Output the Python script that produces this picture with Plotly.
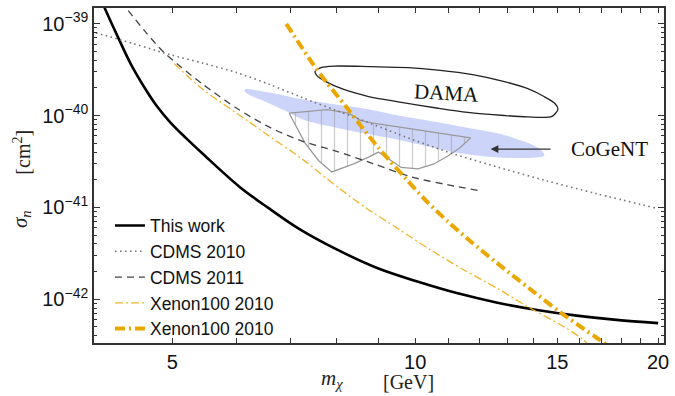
import numpy as np
import plotly.graph_objects as go

# ---------------- data ----------------
this_work_m = [4.034, 4.118, 4.276, 4.440, 4.611, 4.787, 4.972, 5.202, 5.459, 6.061, 6.598,
               7.181, 8.040, 9.006, 10.085, 11.292, 12.646, 14.163, 15.858, 17.759, 20.0]
this_work_s = [2.31e-39, 1.52e-39, 7.36e-40, 3.67e-40, 2.07e-40, 1.26e-40, 8.44e-41, 5.67e-41,
               3.81e-41, 1.67e-41, 9.68e-42, 5.84e-42, 3.40e-42, 2.16e-42, 1.55e-42, 1.16e-42,
               9.17e-43, 7.64e-43, 6.63e-43, 5.96e-43, 5.49e-43]

cdms2010_m = [4.022, 4.316, 4.972, 5.459, 6.010, 6.598, 7.243, 7.951, 8.511, 9.530, 10.980,
              12.646, 14.568, 16.784, 20.0]
cdms2010_s = [7.93e-40, 6.67e-40, 4.59e-40, 3.71e-40, 2.93e-40, 2.18e-40, 1.57e-40, 1.15e-40,
              9.21e-41, 6.26e-41, 4.00e-41, 2.75e-41, 1.94e-41, 1.41e-41, 9.68e-42]

cdms2011_m = [4.316, 4.633, 4.874, 5.086, 5.459, 6.010, 6.598, 7.243, 7.974, 8.829, 9.887,
              10.980, 12.017]
cdms2011_s = [1.76e-39, 8.13e-40, 4.94e-40, 3.58e-40, 2.18e-40, 1.20e-40, 7.46e-41, 5.26e-41,
              4.10e-41, 3.04e-41, 2.15e-41, 1.76e-41, 1.52e-41]

xenon_a_m = [5.028, 5.459, 6.010, 6.598, 7.243, 8.040, 8.674, 9.530, 10.472, 11.509, 12.646,
             13.896, 15.271, 16.163, 16.595]
xenon_a_s = [3.67e-40, 1.92e-40, 1.06e-40, 5.96e-41, 3.36e-41, 1.63e-41, 1.00e-41, 5.84e-42,
             3.40e-42, 2.07e-42, 1.31e-42, 7.97e-43, 5.04e-43, 3.62e-43, 2.82e-43]

xenon_b_m = [6.923, 7.042, 7.451, 7.752, 8.204, 8.511, 9.006, 9.721, 10.287, 10.980, 11.716,
             12.646, 13.884, 15.114, 16.175, 16.784, 17.411]
xenon_b_s = [9.93e-40, 7.93e-40, 3.76e-40, 2.34e-40, 1.26e-40, 8.30e-41, 4.45e-41, 2.09e-41,
             1.21e-41, 7.00e-42, 4.26e-42, 2.46e-42, 1.29e-42, 7.27e-43, 4.76e-43, 3.81e-43,
             3.04e-43]

cogent_band_m = [6.148, 6.598, 7.243, 7.974, 8.755, 9.530, 10.672, 11.520, 12.646, 13.270,
                 14.163, 14.444, 14.444, 13.270, 11.520, 9.721, 8.040, 7.243, 6.923, 6.598,
                 6.166, 6.148]
cogent_band_s = [1.92e-40, 1.78e-40, 1.50e-40, 1.32e-40, 1.17e-40, 1.00e-40, 8.44e-41, 7.46e-41,
                 6.42e-41, 5.67e-41, 4.53e-41, 3.81e-41, 3.62e-41, 3.45e-41, 3.81e-41, 5.26e-41,
                 7.27e-41, 9.10e-41, 1.11e-40, 1.35e-40, 1.78e-40, 1.92e-40]

cogent_hatch_m = [6.981, 7.388, 7.774, 8.274, 8.559, 8.829, 10.085, 11.716, 11.357, 10.980,
                  10.552, 10.085, 9.611, 9.212, 9.006, 8.755, 8.391, 7.884, 7.600, 7.305, 6.981]
cogent_hatch_s = [1.06e-40, 1.12e-40, 1.16e-40, 1.06e-40, 8.87e-41, 8.30e-41, 7.00e-41, 5.71e-41,
                  4.42e-41, 3.62e-41, 2.97e-41, 2.62e-41, 2.72e-41, 3.53e-41, 4.00e-41, 3.53e-41,
                  2.97e-41, 2.43e-41, 3.20e-41, 5.01e-41, 1.06e-40]

dama_m = [7.515, 7.644, 7.929, 8.829, 9.804, 10.672, 11.783, 12.900, 13.766, 14.444, 14.902,
          15.029, 14.777, 13.766, 12.900, 11.617, 10.672, 9.530, 8.755, 8.157, 7.752, 7.557, 7.515]
dama_s = [3.00e-40, 3.32e-40, 3.45e-40, 3.40e-40, 3.32e-40, 3.12e-40, 2.79e-40, 2.34e-40,
          1.97e-40, 1.61e-40, 1.35e-40, 1.17e-40, 9.80e-41, 9.68e-41, 1.00e-40, 1.08e-40,
          1.20e-40, 1.41e-40, 1.61e-40, 1.92e-40, 2.34e-40, 2.72e-40, 3.00e-40]

x_tick_vals = [5, 6, 7, 8, 9, 10, 11, 12, 13, 14, 15, 16, 17, 18, 19, 20]
x_tick_text = ["5", "", "", "", "", "10", "", "", "", "", "15", "", "", "", "", "20"]
y_major_vals = [1e-42, 1e-41, 1e-40, 1e-39]
y_major_text = ["10<sup>\u221242</sup>", "10<sup>\u221241</sup>",
                "10<sup>\u221240</sup>", "10<sup>\u221239</sup>"]
y_minor_vals = [m * 10.0 ** e for e in (-43, -42, -41, -40, -39) for m in range(2, 10)]

x_range = [4.0, 20.34]
y_range = [3.34e-43, 1.48e-39]

dama_label = (10.92, 1.74e-40)
cogent_label = (17.41, 4.31e-41)
arrow_head = (12.40, 4.31e-41)
arrow_tail = (14.78, 4.31e-41)

# ---------------- figure ----------------
SANS = "Liberation Sans, Arial, Helvetica, sans-serif"
SERIF = "Liberation Serif, Times New Roman, DejaVu Serif, serif"
ORANGE = "#E9A700"
ORANGE_L = "#F2B52A"

fig = go.Figure()

fig.add_trace(go.Scatter(x=cogent_band_m, y=cogent_band_s, mode="lines", fill="toself",
                         fillcolor="rgb(205,212,250)", line=dict(width=0, shape="spline"),
                         showlegend=False, hoverinfo="skip"))
fig.add_trace(go.Scatter(x=cogent_hatch_m, y=cogent_hatch_s, mode="lines", fill="toself",
                         fillcolor="rgba(0,0,0,0)",
                         fillpattern=dict(shape="|", fgcolor="#9a9a9a", size=13, solidity=0.1),
                         line=dict(color="#9a9a9a", width=1.3), showlegend=False, hoverinfo="skip"))
fig.add_trace(go.Scatter(x=dama_m, y=dama_s, mode="lines",
                         line=dict(color="#222222", width=1.3, shape="spline", smoothing=0.8),
                         showlegend=False, hoverinfo="skip"))

fig.add_trace(go.Scatter(x=this_work_m, y=this_work_s, mode="lines", name="This work",
                         line=dict(color="black", width=2.6, shape="spline", smoothing=1.0)))
fig.add_trace(go.Scatter(x=cdms2010_m, y=cdms2010_s, mode="lines", name="CDMS 2010",
                         line=dict(color="#777777", width=1.6, dash="1.6px,3.4px",
                                   shape="spline", smoothing=0.8)))
fig.add_trace(go.Scatter(x=cdms2011_m, y=cdms2011_s, mode="lines", name="CDMS 2011",
                         line=dict(color="#444444", width=1.3, dash="7px,5px",
                                   shape="spline", smoothing=0.8)))
fig.add_trace(go.Scatter(x=xenon_a_m, y=xenon_a_s, mode="lines", name="Xenon100 2010",
                         line=dict(color=ORANGE_L, width=1.3, dash="8px,3px,2px,3px",
                                   shape="spline", smoothing=0.8)))
fig.add_trace(go.Scatter(x=xenon_b_m, y=xenon_b_s, mode="lines", name="Xenon100 2010",
                         line=dict(color=ORANGE, width=4, dash="10px,4px,2px,4px",
                                   shape="spline", smoothing=0.8)))

annotations = [
    dict(x=np.log10(dama_label[0]), y=np.log10(dama_label[1]), xref="x", yref="y",
         text="DAMA", showarrow=False, textangle=3,
         font=dict(family=SERIF, size=21, color="#111")),
    dict(x=np.log10(cogent_label[0]), y=np.log10(cogent_label[1]), xref="x", yref="y",
         text="CoGeNT", showarrow=False, font=dict(family=SERIF, size=21, color="#111")),
    dict(x=np.log10(arrow_head[0]), y=np.log10(arrow_head[1]), xref="x", yref="y",
         ax=np.log10(arrow_tail[0]), ay=np.log10(arrow_tail[1]), axref="x", ayref="y",
         text="", showarrow=True, arrowhead=2, arrowsize=1.3, arrowwidth=1.2,
         arrowcolor="#333333"),
    dict(x=-0.128, y=0.37, xref="paper", yref="paper", text="<i>σ<sub>n</sub></i>",
         xanchor="center", yanchor="middle",
         showarrow=False, textangle=-90, font=dict(family=SERIF, size=21, color="#222")),
    dict(x=-0.127, y=0.57, xref="paper", yref="paper", text="[cm<sup>2</sup>]",
         xanchor="center", yanchor="middle",
         showarrow=False, textangle=-90, font=dict(family=SERIF, size=20, color="#222")),
    dict(x=0.418, y=-0.108, xref="paper", yref="paper", text="<i>m<sub>χ</sub></i>",
         xanchor="center", yanchor="middle",
         showarrow=False, font=dict(family=SERIF, size=21, color="#222")),
    dict(x=0.551, y=-0.116, xref="paper", yref="paper", text="[GeV]",
         xanchor="center", yanchor="middle",
         showarrow=False, font=dict(family=SERIF, size=20, color="#222")),
]

fig.update_layout(
    width=675, height=396,
    margin=dict(l=94, r=7, t=6, b=53),
    paper_bgcolor="white", plot_bgcolor="white",
    showlegend=True,
    legend=dict(x=0.028, y=0.404, xanchor="left", yanchor="top", bgcolor="rgba(0,0,0,0)",
                font=dict(family=SANS, size=17.5, color="#111"), tracegroupgap=0),
    annotations=annotations,
)

fig.update_xaxes(type="log", range=[np.log10(x_range[0]), np.log10(x_range[1])],
                 tickmode="array", tickvals=x_tick_vals, ticktext=x_tick_text,
                 ticks="inside", ticklen=5, tickwidth=1, tickcolor="#333",
                 showline=True, linecolor="#333", linewidth=1.5, mirror="ticks",
                 showgrid=False, zeroline=False,
                 tickfont=dict(family=SANS, size=20, color="#111"))
fig.update_yaxes(type="log", range=[np.log10(y_range[0]), np.log10(y_range[1])],
                 tickmode="array", tickvals=y_major_vals, ticktext=y_major_text,
                 ticks="inside", ticklen=6, tickwidth=1, tickcolor="#333",
                 minor=dict(tickmode="array", tickvals=y_minor_vals, ticks="inside", ticklen=3,
                            tickcolor="#333", showgrid=False),
                 showline=True, linecolor="#333", linewidth=1.5, mirror="ticks",
                 showgrid=False, zeroline=False,
                 tickfont=dict(family=SANS, size=20, color="#111"))

fig.write_html("out.html")
